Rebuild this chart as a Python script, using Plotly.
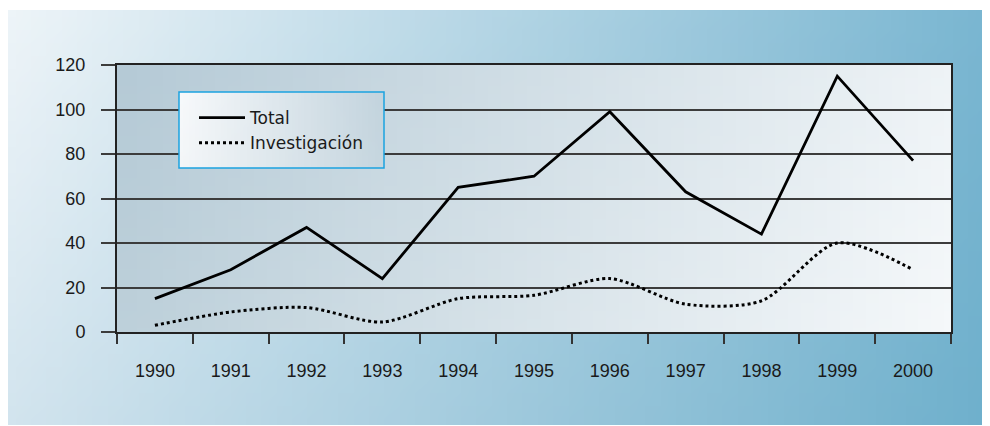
import zlib, struct, base64
import plotly.graph_objects as go

years = ["1990", "1991", "1992", "1993", "1994", "1995", "1996", "1997", "1998", "1999", "2000"]
total = [15, 28, 47, 24, 65, 70, 99, 63, 44, 115, 77]
investigacion = [3, 9, 11, 4.5, 15, 16.5, 24, 12.5, 14, 40, 28]
y_ticks = [0, 20, 40, 60, 80, 100, 120]

# page is rendered with the browser's default 8px body margin
OFF = 8
W, H = 990 - OFF, 426 - OFF
PL, PR, PT, PB = 117, 951, 65, 332  # plot area in page pixels
L, R, T, B = PL - OFF, 990 - PR, PT - OFF, 426 - PB
PW, PH = PR - PL, PB - PT


def grad_png(w, h, tl, tr, bl, br):
    raw = bytearray()
    for j in range(h):
        v = j / (h - 1)
        raw.append(0)
        for i in range(w):
            u = i / (w - 1)
            for k in range(3):
                top = tl[k] * (1 - u) + tr[k] * u
                bot = bl[k] * (1 - u) + br[k] * u
                raw.append(int(round(top * (1 - v) + bot * v)))

    def chunk(t, d):
        c = struct.pack(">I", len(d)) + t + d
        return c + struct.pack(">I", zlib.crc32(t + d) & 0xffffffff)

    png = (b"\x89PNG\r\n\x1a\n"
           + chunk(b"IHDR", struct.pack(">IIBBBBB", w, h, 8, 2, 0, 0, 0))
           + chunk(b"IDAT", zlib.compress(bytes(raw)))
           + chunk(b"IEND", b""))
    return "data:image/png;base64," + base64.b64encode(png).decode()


def hx(s):
    s = s.lstrip("#")
    return tuple(int(s[i:i + 2], 16) for i in (0, 2, 4))


def px_x(x):
    return (x - PL) / PW


def px_y(y):
    return (PB - y) / PH


outer = grad_png(64, 32, hx("#edf4f8"), hx("#7ab6d1"), hx("#d2e4ee"), hx("#6fb0cc"))
plotbg = grad_png(64, 32, hx("#b5cad6"), hx("#eef3f6"), hx("#bdd0da"), hx("#f5f8fa"))
legbg = grad_png(32, 16, hx("#f7f9fb"), hx("#c3d4de"), hx("#f3f6f8"), hx("#c6d6df"))

fig = go.Figure()
fig.add_trace(go.Scatter(x=years, y=total, name="Total", mode="lines",
                         line=dict(color="black", width=2.8)))
fig.add_trace(go.Scatter(x=years, y=investigacion, name="Investigación", mode="lines",
                         line=dict(color="black", width=3, dash="dot", shape="spline", smoothing=0.8)))

lx0, lx1, ly0, ly1 = 179, 384, 92, 168

fig.update_layout(
    width=W, height=H,
    margin=dict(l=L, r=R, t=T, b=B),
    paper_bgcolor="white",
    plot_bgcolor="rgba(0,0,0,0)",
    font=dict(family="Liberation Sans, Arial, sans-serif", size=18, color="#1a1a1a"),
    showlegend=True,
    legend=dict(x=px_x(194), y=px_y(100), xanchor="left", yanchor="top",
                bgcolor="rgba(0,0,0,0)", borderwidth=0,
                font=dict(family="DejaVu Sans, sans-serif", size=17, color="#1a1a1a"),
                tracegroupgap=0, itemwidth=46),
    images=[
        dict(source=outer, xref="paper", yref="paper", x=px_x(7), y=px_y(10),
             sizex=(990 - 7) / PW, sizey=(425 - 10) / PH, sizing="stretch",
             xanchor="left", yanchor="top", layer="below"),
        dict(source=plotbg, xref="paper", yref="paper", x=0, y=1, sizex=1, sizey=1,
             sizing="stretch", xanchor="left", yanchor="top", layer="below"),
        dict(source=legbg, xref="paper", yref="paper", x=px_x(lx0), y=px_y(ly0),
             sizex=(lx1 - lx0) / PW, sizey=(ly1 - ly0) / PH, sizing="stretch",
             xanchor="left", yanchor="top", layer="above"),
    ],
    shapes=[
        dict(type="rect", xref="paper", yref="paper", x0=px_x(lx0), x1=px_x(lx1),
             y0=px_y(ly1), y1=px_y(ly0), line=dict(color="#1ba2e0", width=1.5),
             fillcolor="rgba(0,0,0,0)", layer="above"),
    ],
    xaxis=dict(type="category", range=[-0.5, 10.5], showgrid=False,
               tickson="boundaries", ticks="outside", ticklen=10, tickwidth=1.5,
               tickcolor="#333", showline=True, linecolor="#222", linewidth=2,
               mirror=True, ticklabelstandoff=21, zeroline=False),
    yaxis=dict(range=[0, 120], tickvals=y_ticks, showgrid=True, gridcolor="#3c3c3c",
               gridwidth=1.5, ticks="outside", ticklen=14, tickwidth=1.5, tickcolor="#3c3c3c",
               showline=True, linecolor="#222", linewidth=2, mirror=True,
               zeroline=False, ticklabelstandoff=12),
)

fig.write_html("out.html")
